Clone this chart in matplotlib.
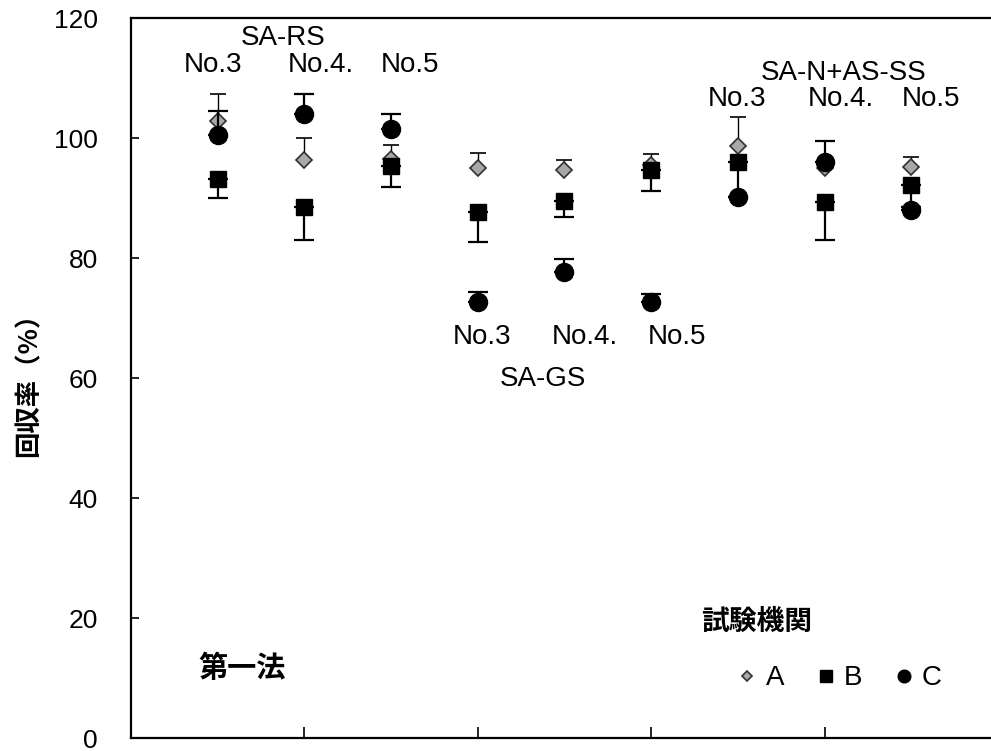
import matplotlib
matplotlib.use("Agg")
import matplotlib.pyplot as plt
import numpy as np

# ---- data ----
positions = [1, 2, 3, 4, 5, 6, 7, 8, 9]
a_vals = [102.8, 96.3, 96.5, 95.0, 94.7, 95.5, 98.7, 95.0, 95.2]
a_upper = [107.3, 100.0, 98.8, 97.5, 96.3, 97.3, 103.5, 96.5, 96.8]
b_vals = [93.2, 88.5, 95.3, 87.7, 89.5, 94.7, 96.0, 89.3, 92.2]
b_lower = [90.0, 83.0, 91.8, 82.7, 86.8, 91.2, 90.2, 83.0, 88.5]
c_vals = [100.5, 104.0, 101.5, 72.7, 77.7, 72.7, 90.2, 96.0, 88.0]
c_upper = [104.5, 107.3, 104.0, 74.3, 79.8, 74.0, 90.2, 99.5, 88.5]

labs = ["A", "B", "C"]
sample_labels = ["No.3", "No.4.", "No.5"] * 3
group_labels = ["SA-RS", "SA-GS", "SA-N+AS-SS"]
yticks = [0, 20, 40, 60, 80, 100, 120]
xticks = [2, 4, 6, 8]

# ---- layout (text positions in data coords) ----
sample_label_x = [0.95, 2.19, 3.22, 4.05, 5.23, 6.30, 6.99, 8.19, 9.23]
sample_label_y = [112.2] * 3 + [66.75] * 3 + [106.5] * 3
group_label_xy = [(1.76, 116.6), (4.75, 59.8), (8.22, 110.8)]

LAT = "Liberation Sans"
CJK = "Noto Sans CJK JP"
plt.rcParams['font.family'] = [LAT, CJK, "DejaVu Sans"]

fig = plt.figure(figsize=(9.91, 7.51), dpi=100)
ax = fig.add_axes([131/991, 13/751, 1 - 131/991, 720/751])

x = np.array(positions)
a = np.array(a_vals); b = np.array(b_vals); c = np.array(c_vals)

ea = ax.errorbar(x, a, yerr=[np.zeros_like(a), np.array(a_upper) - a], fmt='D',
                 color='black', mfc='#a8a8a8', mec='#303030', ms=8, mew=1.2,
                 ecolor='black', elinewidth=1.0, capsize=6, capthick=1.0, zorder=3)
eb = ax.errorbar(x, b, yerr=[b - np.array(b_lower), np.zeros_like(b)], fmt='s',
                 color='black', mfc='black', mec='black', ms=12,
                 ecolor='black', elinewidth=1.6, capsize=7, capthick=1.6, zorder=4)
ec = ax.errorbar(x, c, yerr=[np.zeros_like(c), np.array(c_upper) - c], fmt='o',
                 color='black', mfc='black', mec='black', ms=13,
                 ecolor='black', elinewidth=1.6, capsize=7, capthick=1.6, zorder=5)

ax.set_xlim(0, 9.92)
ax.set_ylim(0, 120)
ax.set_yticks(yticks)
ax.set_xticks(xticks)
ax.set_xticklabels([])
ax.tick_params(axis='y', direction='in', length=6, width=1.2, pad=24, labelsize=19)
ax.tick_params(axis='x', direction='in', length=8, width=1.2)
for s in ['left', 'bottom', 'top']:
    ax.spines[s].set_linewidth(1.6)
ax.spines['right'].set_visible(False)

ax.set_ylabel("回収率（%）", family=[CJK], fontsize=19, fontweight='bold', labelpad=8)

for xi, yi, t in zip(sample_label_x, sample_label_y, sample_labels):
    ax.text(xi, yi, t, ha='center', va='center', fontsize=20, family=[LAT])
for (gx, gy), t in zip(group_label_xy, group_labels):
    ax.text(gx, gy, t, ha='center', va='center', fontsize=20, family=[LAT])

ax.text(1.28, 11.7, "第一法", ha='center', va='center', fontsize=21,
        fontweight='bold', family=[CJK])
ax.text(7.22, 19.3, "試験機関", ha='center', va='center', fontsize=20,
        fontweight='bold', family=[CJK])

leg = ax.legend([ea[0], eb[0], ec[0]], labs, loc='center', bbox_to_anchor=(0.825, 0.083),
                ncol=3, frameon=False, markerscale=0.7, handlelength=0.6,
                handletextpad=0.35, columnspacing=1.2, fontsize=20, numpoints=1)

fig.savefig("out.png", dpi=100)
